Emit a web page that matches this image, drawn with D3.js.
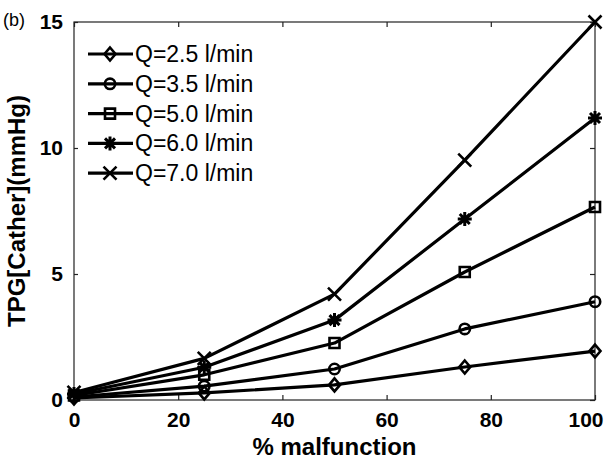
<!DOCTYPE html>
<html>
<head>
<meta charset="utf-8">
<script src="https://cdn.jsdelivr.net/npm/d3@7"></script>
<style>
  body { margin: 0; background: #fff; }
  text { font-family: "Liberation Sans", Arial, sans-serif; fill: #000; }
</style>
</head>
<body>
<div id="chart"></div>
<script>
// TPG across catheter vs % malfunction, one line per flow rate

var malfunction = [0, 25, 50, 75, 100];
var flowLabels = ["Q=2.5 l/min", "Q=3.5 l/min", "Q=5.0 l/min", "Q=6.0 l/min", "Q=7.0 l/min"];
var markerTypes = ["diamond", "circle", "square", "star", "cross"];

var tpgQ25 = [0.08, 0.28, 0.6, 1.31, 1.94];
var tpgQ35 = [0.12, 0.55, 1.23, 2.82, 3.9];
var tpgQ50 = [0.18, 1.0, 2.26, 5.08, 7.66];
var tpgQ60 = [0.24, 1.3, 3.17, 7.18, 11.19];
var tpgQ70 = [0.3, 1.65, 4.2, 9.52, 15.0];

var xTicks = [0, 20, 40, 60, 80, 100];
var yTicks = [0, 5, 10, 15];

var allSeries = [tpgQ25, tpgQ35, tpgQ50, tpgQ60, tpgQ70];

var width = 604, height = 461;
var margin = {left: 74, right: 9, top: 22, bottom: 61};

var svg = d3.select("#chart").append("svg")
    .attr("width", width)
    .attr("height", height);

var x = d3.scaleLinear().domain([0, 100]).range([margin.left, width - margin.right]);
var y = d3.scaleLinear().domain([0, 15]).range([height - margin.bottom, margin.top]);

// marker paths (hollow, like matlab)
function markerPath(type) {
    var s = 5.5;
    if (type === "diamond") return "M0," + (-s - 1) + "L" + s + ",0L0," + (s + 1) + "L" + (-s) + ",0Z";
    if (type === "circle") return d3.symbol().type(d3.symbolCircle).size(85)();
    if (type === "square") return "M" + (-s + 0.5) + "," + (-s + 0.5) + "h" + (2 * s - 1) + "v" + (2 * s - 1) + "h" + (-2 * s + 1) + "Z";
    if (type === "star") {
        return "M0,-7V7M-7,0H7M-5,-5L5,5M-5,5L5,-5";
    }
    return "M-6.5,-6.5L6.5,6.5M-6.5,6.5L6.5,-6.5";
}

// box + ticks
svg.append("rect")
    .attr("x", x(0)).attr("y", y(15))
    .attr("width", x(100) - x(0)).attr("height", y(0) - y(15))
    .attr("fill", "none").attr("stroke", "#222").attr("stroke-width", 1.2);

var xAxis = svg.append("g")
    .attr("transform", "translate(0," + y(0) + ")")
    .call(d3.axisBottom(x).tickValues(xTicks).tickSizeInner(-5).tickSizeOuter(0).tickPadding(12));
var xAxisTop = svg.append("g")
    .attr("transform", "translate(0," + y(15) + ")")
    .call(d3.axisTop(x).tickValues(xTicks).tickSizeInner(-5).tickSizeOuter(0).tickFormat(""));
var yAxis = svg.append("g")
    .attr("transform", "translate(" + x(0) + ",0)")
    .call(d3.axisLeft(y).tickValues(yTicks).tickSizeInner(5).tickSizeOuter(0).tickPadding(2));
var yAxisRight = svg.append("g")
    .attr("transform", "translate(" + x(100) + ",0)")
    .call(d3.axisRight(y).tickValues(yTicks).tickSizeInner(-5).tickSizeOuter(0).tickFormat(""));

[xAxis, xAxisTop, yAxis, yAxisRight].forEach(function(a) {
    a.select(".domain").remove();
    a.selectAll(".tick line").attr("stroke", "#222").attr("stroke-width", 1.2);
});
yAxis.selectAll(".tick line").attr("x2", 4);

svg.selectAll(".tick text")
    .style("font-family", "'Liberation Sans', Arial, sans-serif")
    .style("font-size", "21px")
    .style("font-weight", "bold")
    .attr("fill", "#000");
yAxis.selectAll(".tick text").attr("dx", "-4");
// last x label sits at the edge of the picture
xAxis.selectAll(".tick text")
    .filter(function(d) { return d === 100; })
    .attr("text-anchor", "end")
    .attr("dx", (width - 1 - x(100)) + "px");

// lines
var line = d3.line()
    .x(function(d, i) { return x(malfunction[i]); })
    .y(function(d) { return y(d); });

allSeries.forEach(function(series, k) {
    svg.append("path")
        .datum(series)
        .attr("d", line)
        .attr("fill", "none")
        .attr("stroke", "#000")
        .attr("stroke-width", 3.2)
        .attr("stroke-linejoin", "round");

    svg.selectAll(".mk" + k)
        .data(series)
        .enter().append("path")
        .attr("class", "mk" + k)
        .attr("transform", function(d, i) { return "translate(" + x(malfunction[i]) + "," + y(d) + ")"; })
        .attr("d", markerPath(markerTypes[k]))
        .attr("fill", "none")
        .attr("stroke", "#000")
        .attr("stroke-width", markerTypes[k] === "star" ? 3 : 2.6);
});

// legend
var legend = svg.append("g");
flowLabels.forEach(function(lbl, i) {
    var ly = 54 + i * 29.8;
    legend.append("line")
        .attr("x1", 88).attr("x2", 133)
        .attr("y1", ly).attr("y2", ly)
        .attr("stroke", "#000").attr("stroke-width", 3.2);
    legend.append("path")
        .attr("transform", "translate(110," + ly + ")")
        .attr("d", markerPath(markerTypes[i]))
        .attr("fill", "none").attr("stroke", "#000")
        .attr("stroke-width", markerTypes[i] === "star" ? 3 : 2.6);
    legend.append("text")
        .attr("x", 135).attr("y", ly + 8)
        .style("font-size", "23px")
        .text(lbl);
});

// labels
svg.append("text")
    .attr("x", (x(0) + x(100)) / 2).attr("y", 455)
    .attr("text-anchor", "middle")
    .style("font-size", "24px").style("font-weight", "bold")
    .text("% malfunction");

svg.append("text")
    .attr("transform", "translate(25," + (y(0) + y(15)) / 2 + ") rotate(-90)")
    .attr("text-anchor", "middle")
    .style("font-size", "24px").style("font-weight", "bold")
    .text("TPG[Cather](mmHg)");

svg.append("text")
    .attr("x", 3).attr("y", 26)
    .style("font-size", "18px")
    .text("(b)");
</script>
</body>
</html>
